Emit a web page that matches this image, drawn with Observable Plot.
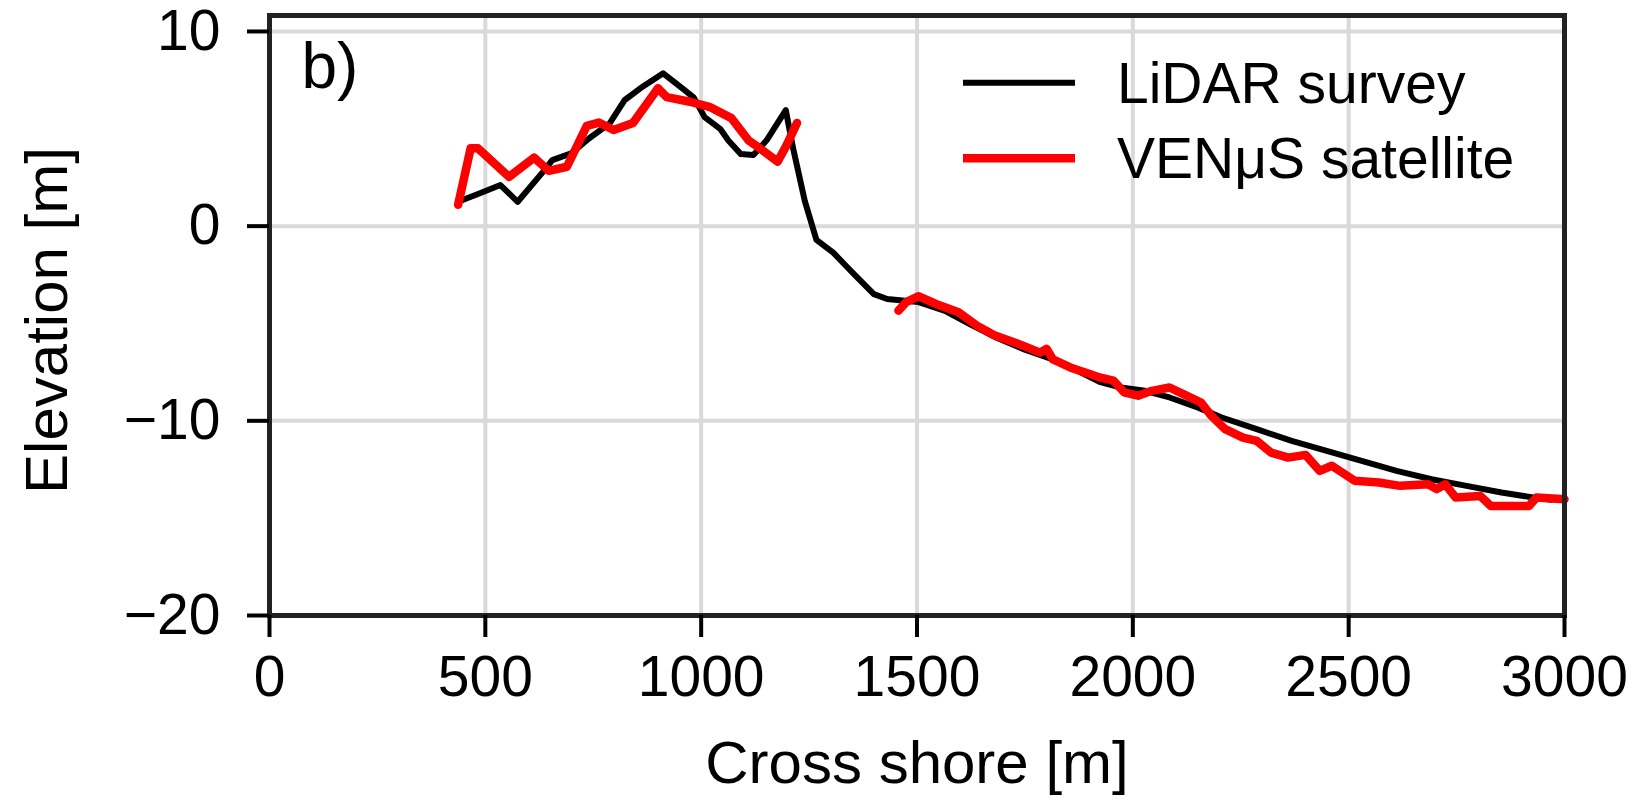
<!DOCTYPE html>
<html>
<head>
<meta charset="utf-8">
<script src="https://cdn.jsdelivr.net/npm/d3@7"></script>
<script src="https://cdn.jsdelivr.net/npm/@observablehq/plot@0.6"></script>
<style>
  html, body { margin: 0; padding: 0; background: white; }
  #chart svg { display: block; }
</style>
</head>
<body>
<div id="chart"></div>
<script>
// ---- data ----
const xTicks = [0, 500, 1000, 1500, 2000, 2500, 3000];
const yTicks = [-20, -10, 0, 10];

// LiDAR survey profile (cross-shore distance [m], elevation [m])
const lidarX = [437, 486, 535, 575, 637, 655, 699, 740, 788, 823, 859, 912, 958, 983, 1008, 1044, 1063, 1092, 1121, 1152, 1196, 1213, 1240, 1267, 1306, 1338, 1358, 1400, 1431, 1472, 1504, 1565, 1620, 1686, 1750, 1808, 1870, 1923, 1972, 2028, 2085, 2150, 2206, 2287, 2368, 2449, 2530, 2611, 2692, 2773, 2854, 2927, 2970];
const lidarY = [1.25, 1.68, 2.11, 1.25, 2.88, 3.39, 3.74, 4.5, 5.28, 6.48, 7.08, 7.85, 7.05, 6.6, 5.6, 5.0, 4.4, 3.7, 3.65, 4.42, 5.96, 4.0, 1.3, -0.7, -1.36, -2.1, -2.55, -3.49, -3.74, -3.83, -3.9, -4.35, -5.0, -5.75, -6.35, -6.8, -7.4, -8.0, -8.29, -8.46, -8.8, -9.31, -9.83, -10.43, -11.03, -11.54, -12.06, -12.57, -13.0, -13.34, -13.68, -13.94, -14.05];

// VENμS satellite profile, first segment (dune)
const venusX1 = [437, 466, 483, 555, 613, 647, 689, 735, 763, 797, 842, 900, 920, 974, 1019, 1070, 1110, 1136, 1177, 1198, 1222];
const venusY1 = [1.1, 4.0, 4.0, 2.53, 3.52, 2.84, 3.05, 5.15, 5.32, 4.94, 5.3, 7.08, 6.63, 6.39, 6.13, 5.55, 4.4, 4.0, 3.31, 4.16, 5.3];
// VENμS satellite profile, second segment (submerged)
const venusX2 = [1457, 1475, 1503, 1544, 1596, 1638, 1679, 1741, 1785, 1800, 1815, 1860, 1900, 1923, 1955, 1980, 2012, 2044, 2085, 2117, 2158, 2182, 2214, 2255, 2287, 2320, 2360, 2400, 2433, 2461, 2514, 2570, 2619, 2684, 2704, 2724, 2748, 2805, 2829, 2918, 2935, 3000];
const venusY2 = [-4.34, -3.9, -3.6, -4.0, -4.42, -5.1, -5.6, -6.1, -6.5, -6.3, -6.85, -7.3, -7.6, -7.77, -7.94, -8.54, -8.71, -8.46, -8.29, -8.63, -9.06, -9.74, -10.43, -10.86, -11.03, -11.63, -11.89, -11.75, -12.57, -12.31, -13.08, -13.17, -13.34, -13.26, -13.51, -13.26, -13.94, -13.86, -14.37, -14.37, -13.94, -14.03];

const legendLabels = ["LiDAR survey", "VENμS satellite"];
const legendColors = ["black", "red"];
const legendWidths = [6, 8.5];
const panelLabel = "b)";
const xLabel = "Cross shore [m]";
const yLabel = "Elevation [m]";

// ---- build tables ----
const lidar = lidarX.map((x, i) => ({x, y: lidarY[i]}));
const venus = [
  ...venusX1.map((x, i) => ({x, y: venusY1[i], seg: 1})),
  ...venusX2.map((x, i) => ({x, y: venusY2[i], seg: 2}))
];

const FONT = "'Liberation Sans', Arial, sans-serif";

function legendMark(index, scales, values, dims) {
  const right = dims.width - dims.marginRight;
  const top = dims.marginTop;
  const g = d3.create("svg:g");
  legendLabels.forEach((label, i) => {
    const y = top + 67.7 + i * 75.6;
    g.append("line")
      .attr("x1", right - 601).attr("x2", right - 489)
      .attr("y1", y).attr("y2", y)
      .attr("stroke", legendColors[i])
      .attr("stroke-width", legendWidths[i]);
    g.append("text")
      .attr("x", right - 447).attr("y", y)
      .attr("dy", "0.35em")
      .attr("text-anchor", "start")
      .attr("font-size", 57)
      .attr("font-family", FONT)
      .attr("fill", "black")
      .text(label);
  });
  return g.node();
}

const chart = Plot.plot({
  width: 1646,
  height: 803,
  marginLeft: 269,
  marginRight: 82,
  marginTop: 15,
  marginBottom: 188,
  style: {fontFamily: FONT, background: "white", color: "black"},
  x: {domain: [0, 3000]},
  y: {domain: [-20, 10.82]},
  marks: [
    Plot.gridX(xTicks, {stroke: "#d9d9d9", strokeOpacity: 1, strokeWidth: 4}),
    Plot.gridY(yTicks, {stroke: "#d9d9d9", strokeOpacity: 1, strokeWidth: 4}),
    Plot.line(lidar, {x: "x", y: "y", stroke: "black", strokeWidth: 6}),
    Plot.line(venus, {x: "x", y: "y", z: "seg", stroke: "red", strokeWidth: 8.5}),
    Plot.frame({stroke: "#222", strokeWidth: 5}),
    Plot.axisX(xTicks, {tickSize: 22, tickPadding: 18, fontSize: 57, tickFormat: "d", label: null, strokeWidth: 4}),
    Plot.axisY(yTicks, {tickSize: 22, tickPadding: 27, fontSize: 57, tickFormat: "d", label: null, strokeWidth: 4}),
    Plot.text([xLabel], {frameAnchor: "bottom", textAnchor: "middle", lineAnchor: "top", dy: 125, fontSize: 60, fill: "black"}),
    Plot.text([yLabel], {frameAnchor: "left", textAnchor: "middle", lineAnchor: "middle", rotate: -90, dx: -222, dy: 5, fontSize: 60, fill: "black"}),
    Plot.text([panelLabel], {frameAnchor: "top-left", textAnchor: "start", lineAnchor: "top", dx: 32, dy: 27, fontSize: 64, fill: "black"}),
    legendMark
  ]
});

document.getElementById("chart").appendChild(chart);
</script>
</body>
</html>
